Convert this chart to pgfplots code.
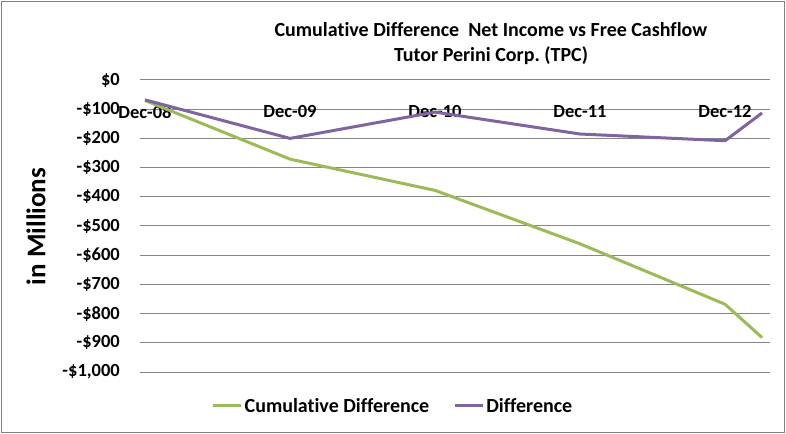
\documentclass[border=0pt]{standalone}
\usepackage{pgfplots}
\pgfplotsset{compat=1.18}
\usepackage{fontspec}
\setmainfont{Carlito}[Ligatures=NoCommon]
\frenchspacing
\definecolor{xlgreen}{HTML}{9BBB59}
\definecolor{xlpurple}{HTML}{8064A2}
\definecolor{gridgray}{HTML}{868686}
\begin{document}
\begin{tikzpicture}
\path[use as bounding box] (0,0) rectangle (786bp,434bp);
\draw[gray, line width=1bp] (1.5bp,1.7bp) rectangle (784.3bp,432.5bp);
\begin{axis}[
    at={(140bp,62bp)}, anchor=south west,
    scale only axis,
    width=630bp, height=292bp,
    xmin=-0.0345, xmax=4.31,
    ymin=-1000, ymax=0,
    xtick={0,1,2,3,4},
    xticklabels={Dec-08,Dec-09,Dec-10,Dec-11,Dec-12},
    xticklabel pos=upper,
    xticklabel style={anchor=center, yshift=-32bp, inner sep=0pt},
    ytick={-1000,-900,...,0},
    yticklabels={-\$1{,}000,-\$900,-\$800,-\$700,-\$600,-\$500,-\$400,-\$300,-\$200,-\$100,\$0},
    yticklabel style={anchor=east, xshift=-20bp, inner sep=0pt},
    major tick length=0pt,
    tick style={draw=none},
    axis line style={draw=none},
    ymajorgrids=true,
    grid style={gridgray, line width=1bp},
    font=\fontsize{18.5bp}{22bp}\selectfont\bfseries,
    ticklabel style={font=\fontsize{18.5bp}{22bp}\selectfont\bfseries},
    legend columns=2,
    legend style={at={(0.4016,-0.1164)}, anchor=center, draw=none, fill=none,
        font=\fontsize{20bp}{24bp}\selectfont\bfseries,
        /tikz/every even column/.append style={column sep=22bp}},
    legend image code/.code={\draw[#1] (0bp,0bp) -- (28bp,0bp);},
]
\addplot[xlgreen, line width=3bp] coordinates {
    (0,-70) (1,-271) (2,-378) (3,-561) (4,-768) (4.255,-882)
};
\addlegendentry{Cumulative Difference}
\addplot[xlpurple, line width=3bp] coordinates {
    (0,-68) (1,-200) (2,-110) (3,-185) (4,-208) (4.255,-113)
};
\addlegendentry{Difference}
\end{axis}
\node[font=\fontsize{20bp}{25bp}\selectfont\bfseries, align=center] at (491bp,390bp)
    {Cumulative Difference\ \ Net Income vs Free Cashflow\\Tutor Perini Corp. (TPC)};
\node[font=\fontsize{27bp}{30bp}\selectfont\bfseries, rotate=90] at (36bp,207.5bp) {in Millions};
\end{tikzpicture}
\end{document}
